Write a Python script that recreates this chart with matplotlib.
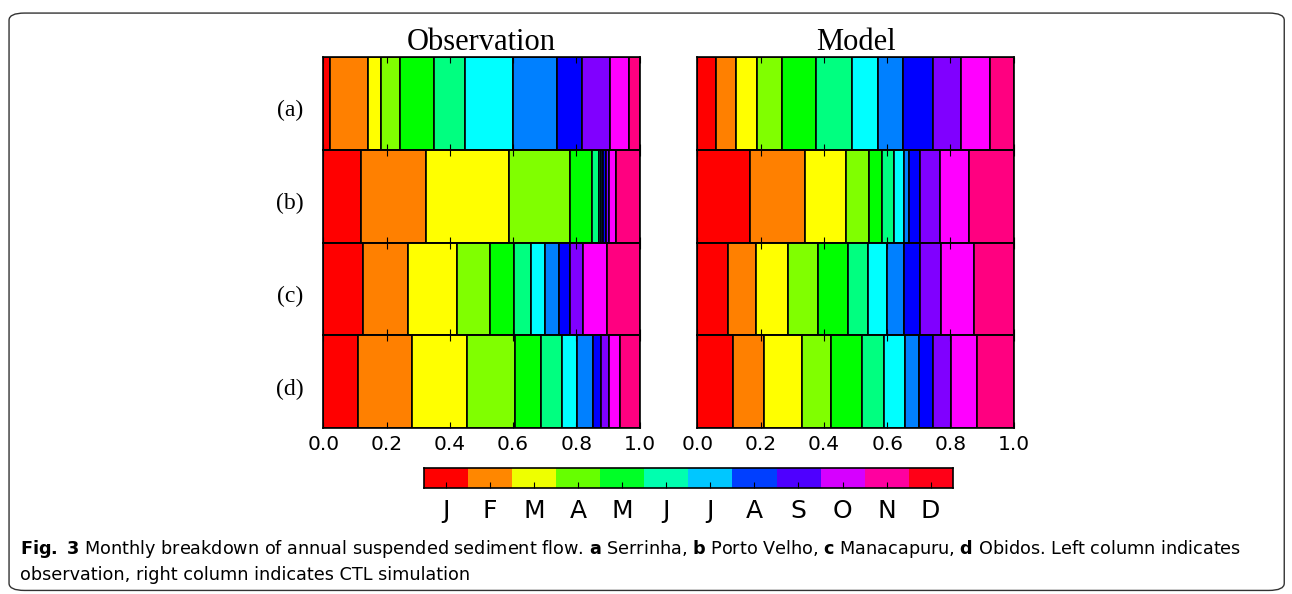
import colorsys
import numpy as np
import matplotlib.pyplot as plt
from matplotlib.colors import ListedColormap
from matplotlib.patches import FancyBboxPatch

# Monthly share of annual suspended sediment flow (J..D)
months = ['J', 'F', 'M', 'A', 'M', 'J', 'J', 'A', 'S', 'O', 'N', 'D']
rows = ['(a)', '(b)', '(c)', '(d)']

obs_a = [0.021, 0.121, 0.042, 0.058, 0.109, 0.098, 0.151, 0.139, 0.080, 0.086, 0.061, 0.034]
obs_b = [0.119, 0.207, 0.261, 0.194, 0.068, 0.023, 0.005, 0.006, 0.010, 0.011, 0.020, 0.076]
obs_c = [0.126, 0.142, 0.155, 0.105, 0.075, 0.053, 0.046, 0.043, 0.034, 0.042, 0.076, 0.103]
obs_d = [0.111, 0.168, 0.176, 0.150, 0.084, 0.066, 0.048, 0.048, 0.028, 0.024, 0.034, 0.063]

mod_a = [0.059, 0.063, 0.068, 0.077, 0.107, 0.114, 0.083, 0.079, 0.095, 0.089, 0.092, 0.074]
mod_b = [0.165, 0.174, 0.130, 0.074, 0.042, 0.037, 0.030, 0.018, 0.035, 0.063, 0.090, 0.142]
mod_c = [0.098, 0.087, 0.103, 0.092, 0.095, 0.066, 0.060, 0.051, 0.051, 0.067, 0.106, 0.124]
mod_d = [0.114, 0.098, 0.118, 0.092, 0.098, 0.069, 0.066, 0.046, 0.044, 0.057, 0.082, 0.116]

columns = {'Observation': [obs_a, obs_b, obs_c, obs_d],
           'Model': [mod_a, mod_b, mod_c, mod_d]}

month_colors = [colorsys.hsv_to_rgb(i / 12, 1, 1) for i in range(12)]

fig = plt.figure(figsize=(12.92, 5.94), dpi=100)

# journal-style rounded frame
fig.patches.append(FancyBboxPatch((0.007, 0.006), 0.987, 0.972, boxstyle='round,pad=0,rounding_size=0.012',
                                  transform=fig.transFigure, fill=False, ec='#333333', lw=1.0))

top, bottom = 0.904, 0.2795
row_h = (top - bottom) / 4
lefts = [0.2502, 0.5397]
width = 0.2449

for c, (title, data) in enumerate(columns.items()):
    for r, shares in enumerate(data):
        ax = fig.add_axes([lefts[c], top - (r + 1) * row_h, width, row_h])
        starts = np.concatenate([[0], np.cumsum(shares)[:-1]])
        ax.barh(0, shares, left=starts, height=1, color=month_colors, edgecolor='black', linewidth=1.2)
        ax.set_xlim(0, 1)
        ax.set_ylim(-0.5, 0.5)
        ax.set_yticks([])
        ax.set_xticks(np.arange(0, 1.01, 0.2))
        ax.tick_params(axis='x', direction='in', top=True, bottom=True, length=4, width=0.8,
                       labelsize=14.5, pad=5, labelbottom=(r == 3))
        if r == 3:
            ax.set_xticklabels(['%.1f' % v for v in np.arange(0, 1.01, 0.2)])
        for s in ax.spines.values():
            s.set_linewidth(1.2)
        if r == 0:
            ax.set_title(title, family='Liberation Serif', fontsize=22, pad=3)
        if c == 0:
            ax.text(-0.105, 0.42, rows[r], transform=ax.transAxes, ha='center', va='center',
                    family='Liberation Serif', fontsize=17)

# month colour bar
cax = fig.add_axes([0.328, 0.1785, 0.4094, 0.0337])
cb_cmap = ListedColormap(plt.cm.hsv(np.linspace(0, 1, 12)))
cax.imshow(np.arange(12)[None, :], cmap=cb_cmap, aspect='auto', extent=(0, 12, 0, 1))
cax.set_xticks(np.arange(12) + 0.5)
cax.set_xticklabels(months)
cax.set_yticks([])
cax.tick_params(axis='x', direction='in', length=4, labelsize=18, pad=8)
for s in cax.spines.values():
    s.set_linewidth(1.2)

# caption
fig.text(0.0155, 0.076, r'$\bf{Fig.\ 3}$ Monthly breakdown of annual suspended sediment flow. '
         r'$\bf{a}$ Serrinha, $\bf{b}$ Porto Velho, $\bf{c}$ Manacapuru, $\bf{d}$ Obidos. Left column indicates',
         fontsize=12.7, va='center')
fig.text(0.0155, 0.032, 'observation, right column indicates CTL simulation',
         fontsize=12.7, va='center')

fig.savefig('out.png', dpi=100)
